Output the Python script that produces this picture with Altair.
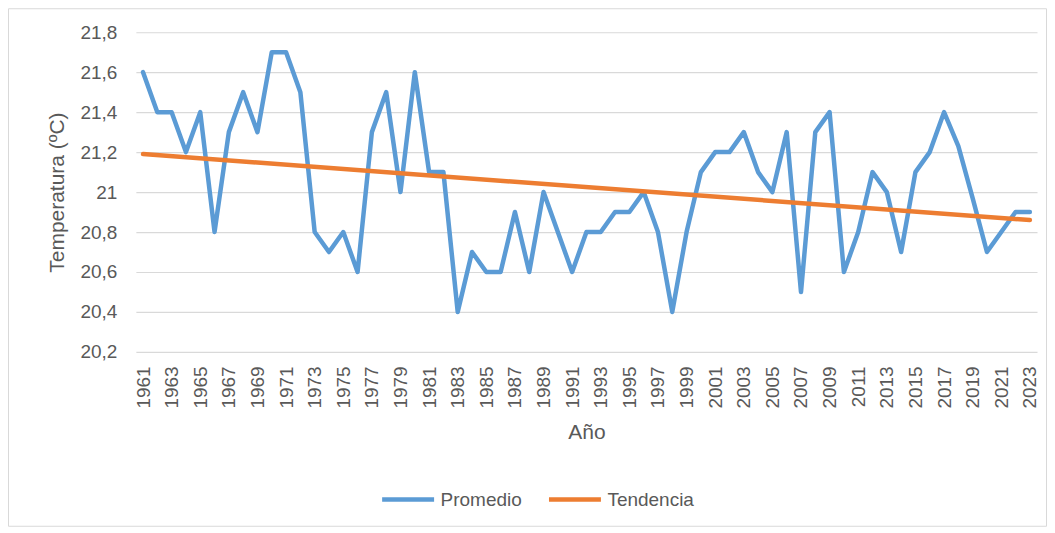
import altair as alt
import pandas as pd

years = list(range(1961, 2024))
promedio = [
    21.6, 21.4, 21.4, 21.2, 21.4, 20.8, 21.3, 21.5, 21.3, 21.7,
    21.7, 21.5, 20.8, 20.7, 20.8, 20.6, 21.3, 21.5, 21.0, 21.6,
    21.1, 21.1, 20.4, 20.7, 20.6, 20.6, 20.9, 20.6, 21.0, 20.8,
    20.6, 20.8, 20.8, 20.9, 20.9, 21.0, 20.8, 20.4, 20.8, 21.1,
    21.2, 21.2, 21.3, 21.1, 21.0, 21.3, 20.5, 21.3, 21.4, 20.6,
    20.8, 21.1, 21.0, 20.7, 21.1, 21.2, 21.4, 21.23, 20.97, 20.7,
    20.8, 20.9, 20.9,
]
trend_years = [1961, 2023]
trend_values = [21.19, 20.86]
series_names = ["Promedio", "Tendencia"]
series_colors = ["#5B9BD5", "#ED7D31"]
y_ticks = [20.2, 20.4, 20.6, 20.8, 21.0, 21.2, 21.4, 21.6, 21.8]
x_ticks = list(range(1961, 2024, 2))

df = pd.concat([
    pd.DataFrame({"Año": years, "Temperatura": promedio, "Serie": series_names[0]}),
    pd.DataFrame({"Año": trend_years, "Temperatura": trend_values, "Serie": series_names[1]}),
], ignore_index=True)

TXT = "#595959"
FONT = "Liberation Sans"
W, H = 902, 320

lines = alt.Chart(df).mark_line(strokeWidth=4.5, strokeJoin="round", strokeCap="round").encode(
    x=alt.X("Año:Q",
            scale=alt.Scale(domain=[1960.5, 2023.5], nice=False, zero=False),
            axis=alt.Axis(values=x_ticks, format="d", labelAngle=270, grid=False,
                          domain=False, ticks=False, tickSize=0, labelPadding=14,
                          labelFontSize=19, labelColor=TXT, labelFont=FONT,
                          title="Año", titleFontSize=21, titleFont=FONT,
                          titleColor=TXT, titleFontWeight="normal", titlePadding=13,
                          labelOverlap=False)),
    y=alt.Y("Temperatura:Q",
            scale=alt.Scale(domain=[20.2, 21.8], nice=False, zero=False),
            axis=alt.Axis(values=y_ticks,
                          labelExpr="replace(toString(datum.value), '.', ',')",
                          grid=True, gridColor="#D9D9D9", gridWidth=1.2,
                          domain=False, ticks=False, tickSize=0, labelPadding=19,
                          labelFontSize=19, labelColor=TXT, labelFont=FONT,
                          title="Temperatura (ºC)", titleFontSize=21, titleFont=FONT,
                          titleColor=TXT, titleFontWeight="normal", titlePadding=12)),
    color=alt.Color("Serie:N",
                    scale=alt.Scale(domain=series_names, range=series_colors),
                    legend=alt.Legend(title=None, orient="none", legendX=244, legendY=439,
                                      direction="horizontal", columns=2,
                                      symbolType="stroke", symbolSize=2704,
                                      symbolStrokeWidth=4.5, labelFontSize=19,
                                      labelFont=FONT, labelColor=TXT, labelOffset=4,
                                      columnPadding=17, padding=0)),
    order=alt.Order("Año:Q"),
)

border = alt.Chart(alt.Data(values=[{"a": 1}])).mark_rect(
    fill=None, stroke="#D9D9D9", strokeWidth=1
).encode(
    x=alt.value(-127.5), x2=alt.value(911.5), y=alt.value(-23.5), y2=alt.value(494.5)
)

chart = alt.layer(lines, border).properties(
    width=W, height=H,
    autosize=alt.AutoSizeParams(type="none"),
    padding={"left": 128, "top": 24, "right": 10, "bottom": 175},
    background="white",
).configure_view(stroke=None)

chart.save("out.html", embed_options={"renderer": "svg", "actions": False})
